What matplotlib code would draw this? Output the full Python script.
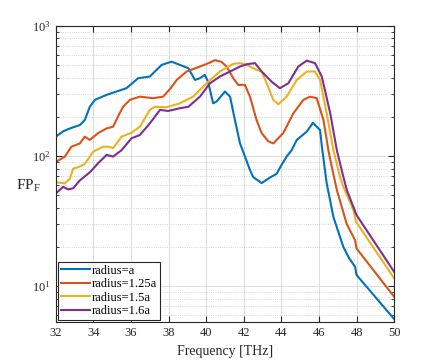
import matplotlib
matplotlib.use("Agg")
import matplotlib.pyplot as plt
from matplotlib.ticker import LogLocator, NullFormatter

plt.rcParams['font.family'] = ['Liberation Serif', 'DejaVu Serif']
plt.rcParams['mathtext.fontset'] = 'custom'
plt.rcParams['mathtext.rm'] = 'Liberation Serif'
plt.rcParams['mathtext.it'] = 'Liberation Serif:italic'

# frequency [THz] and FP_F values
f_a = [32.0, 32.4, 32.75, 33.28, 33.54, 33.81, 34.08, 34.7, 35.23, 35.76, 36.38, 37.0,
       37.63, 38.16, 38.6, 39.05, 39.4, 39.67, 39.93, 40.1, 40.37, 40.55, 41.0, 41.27,
       41.53, 41.8, 42.0, 42.33, 42.5, 42.95, 43.4, 43.75, 44.0, 44.28, 44.55, 44.82,
       45.35, 45.68, 46.06, 46.15, 46.41, 46.77, 47.0, 47.3, 47.6, 47.92, 48.0, 50.0]
fp_a = [141, 155, 163, 173, 189, 239, 270, 295, 313, 332, 396, 408,
        501, 531, 501, 473, 384, 396, 420, 373, 254, 262, 313, 286,
        189, 125, 105, 78, 69, 62, 68.5, 73, 85, 99, 111, 133,
        154, 180, 158, 120, 62, 34, 27, 20, 16.5, 14.1, 12.2, 5.6]

f_125 = [32.0, 32.48, 32.83, 33.28, 33.54, 33.81, 34.25, 34.7, 35.05, 35.3, 35.58, 35.94,
         36.47, 37.18, 37.71, 38.1, 38.43, 38.96, 39.67, 40.1, 40.47, 40.8, 41.09, 41.44,
         41.7, 42.06, 42.33, 42.68, 42.95, 43.3, 43.57, 44.1, 44.64, 45.17, 45.53, 45.88,
         46.24, 46.5, 46.68, 46.95, 47.48, 47.92, 48.0, 50.0]
fp_125 = [90, 99, 118, 125, 141, 133, 150, 163, 168, 200, 239, 270,
          286, 278, 286, 330, 384, 446, 487, 515, 545, 530, 487, 396,
          352, 352, 286, 189, 150, 130, 125, 150, 213, 270, 286, 278,
          189, 111, 83, 55, 30, 22.6, 19.5, 8.3]

f_15 = [32.0, 32.48, 32.75, 32.92, 33.28, 33.54, 33.99, 34.52, 34.79, 35.05, 35.5, 36.03,
        36.47, 37.0, 37.27, 37.89, 38.6, 39.31, 40.02, 40.73, 41.44, 41.8, 42.15, 42.68,
        42.95, 43.22, 43.57, 43.84, 44.28, 44.82, 45.35, 45.79, 46.06, 46.41, 46.77, 47.12,
        47.3, 47.83, 47.97, 50.0]
fp_15 = [63, 61.7, 67, 80, 83, 87, 108, 118, 118, 115, 141, 151,
         168, 226, 239, 237, 254, 286, 362, 446, 511, 517, 501, 459,
         446, 362, 270, 250, 286, 384, 446, 446, 384, 213, 111, 69,
         58, 38.5, 31.3, 11.5]

f_16 = [32.0, 32.39, 32.65, 32.92, 33.28, 33.81, 34.25, 34.7, 35.05, 35.5, 36.03, 36.47,
        37.0, 37.54, 37.98, 38.6, 39.05, 39.67, 40.2, 40.73, 41.27, 41.8, 42.15, 42.6,
        42.95, 43.48, 43.92, 44.37, 44.9, 45.35, 45.79, 46.15, 46.6, 46.95, 47.3, 47.48,
        48.0, 50.0]
fp_16 = [51.6, 58, 55.5, 56.5, 65, 75, 88, 102, 99, 111, 137, 145,
         178, 226, 222, 233, 239, 286, 362, 408, 446, 487, 507, 517,
         446, 373, 332, 362, 487, 541, 517, 408, 213, 111, 69, 55,
         35.2, 12.9]

series = [
    (f_a, fp_a, 'radius=a', '#0072BD'),
    (f_125, fp_125, 'radius=1.25a', '#D95319'),
    (f_15, fp_15, 'radius=1.5a', '#EDB120'),
    (f_16, fp_16, 'radius=1.6a', '#7E2F8E'),
]

fig = plt.figure(figsize=(4.36, 3.64), dpi=100)
ax = fig.add_axes([0.128, 0.115, 0.776, 0.814])

for f, fp, label, color in series:
    ax.plot(f, fp, color=color, lw=1.5, label=label)

ax.set_yscale('log')
ax.set_xlim(32, 50)
ax.set_ylim(5.3, 1000)
ax.set_xticks(range(32, 51, 2))
ax.yaxis.set_major_locator(LogLocator(base=10, numticks=10))
ax.yaxis.set_minor_locator(LogLocator(base=10, subs=range(2, 10), numticks=20))
ax.yaxis.set_minor_formatter(NullFormatter())

ax.grid(True, which='major', color='#dcdcdc', lw=0.7, ls='-')
ax.grid(True, which='minor', axis='y', color='#c8c8c8', lw=0.6, ls=':')
ax.set_axisbelow(True)

ax.tick_params(which='both', direction='in', top=True, right=True,
               labelsize=9, colors='#262626')
ax.tick_params(which='major', length=4)
ax.tick_params(which='minor', length=2)
for sp in ax.spines.values():
    sp.set_color('#262626')
    sp.set_linewidth(0.8)

ax.set_xlabel('Frequency [THz]', fontsize=10, color='#262626')
ax.set_ylabel(r'FP$_\mathrm{F}$', fontsize=11, rotation=0, color='#262626',
              va='center', ha='center')
ax.yaxis.set_label_coords(-0.08, 0.46)

leg = ax.legend(loc='lower left', fontsize=9, fancybox=False, framealpha=1,
                edgecolor='#262626', handlelength=2.3, borderaxespad=0.15,
                labelspacing=0.12, borderpad=0.25, handletextpad=0.2)
leg.get_frame().set_linewidth(0.8)

fig.savefig('out.png', dpi=100)
